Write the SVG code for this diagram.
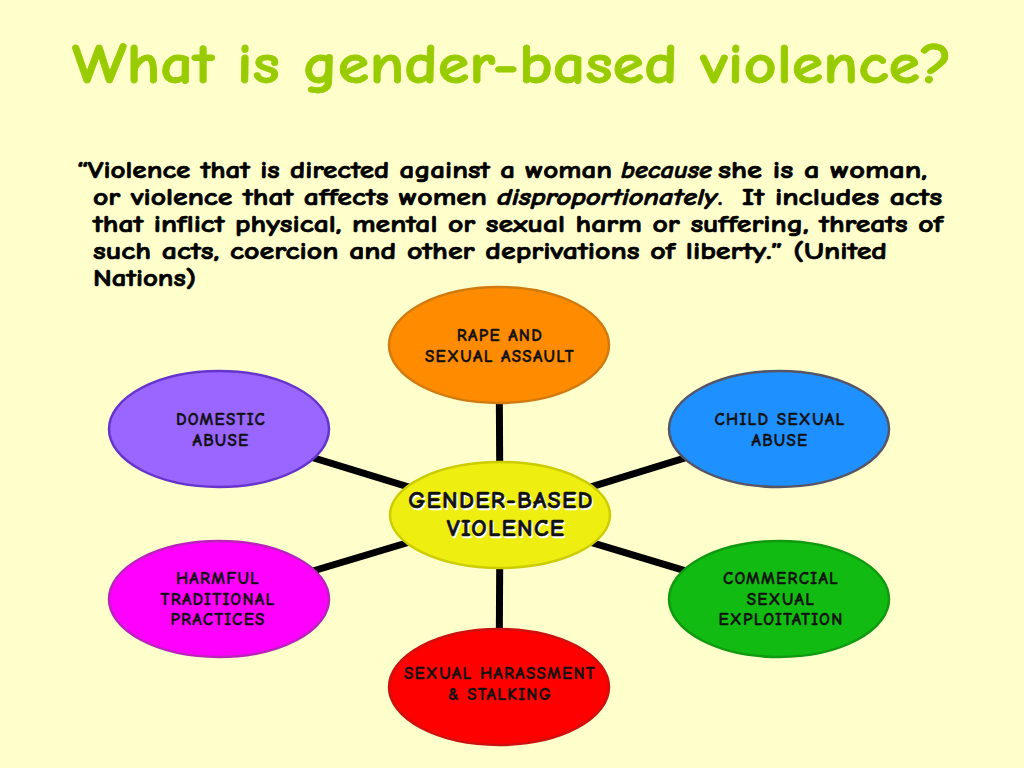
<svg xmlns="http://www.w3.org/2000/svg" width="1024" height="768" viewBox="0 0 1024 768">
<style>
.title{font-family:"Comic Neue","DejaVu Sans","Liberation Sans",sans-serif;font-weight:bold;font-size:56px;fill:#99CC00;stroke:#99CC00;stroke-width:0.8}
.body{font-family:"Comic Neue","DejaVu Sans","Liberation Sans",sans-serif;font-weight:bold;font-size:24px;fill:#000;stroke:#000;stroke-width:0.7}
.it{font-style:italic}
.lbl{font-family:"Comic Neue","DejaVu Sans","Liberation Sans",sans-serif;font-weight:bold;font-size:17px;letter-spacing:1.3px;fill:#111;stroke:#111;stroke-width:0.4;text-anchor:middle}
.ctr{font-family:"Comic Neue","DejaVu Sans","Liberation Sans",sans-serif;font-weight:bold;font-size:24px;letter-spacing:1.3px;text-anchor:middle;stroke-width:0.6}
.node{stroke-width:2.5}
.conn{stroke:#000;stroke-width:7;fill:none}
</style>
<rect width="1024" height="768" fill="#FFFFCC"/>
<text class="title" x="512" y="83" text-anchor="middle" textLength="880" lengthAdjust="spacingAndGlyphs">What is gender-based violence?</text>
<g id="quote">
<text class="body" x="77" y="178" textLength="535" lengthAdjust="spacingAndGlyphs">“Violence that is directed against a woman</text>
<text class="body it" x="621" y="178" textLength="91" lengthAdjust="spacingAndGlyphs">because</text>
<text class="body" x="718" y="178" textLength="209" lengthAdjust="spacingAndGlyphs">she is a woman,</text>
<text class="body" x="93" y="205" textLength="394" lengthAdjust="spacingAndGlyphs">or violence that affects women</text>
<text class="body it" x="497" y="205" textLength="220" lengthAdjust="spacingAndGlyphs">disproportionately</text>
<text class="body" x="718" y="205">.</text>
<text class="body" x="742" y="205" textLength="200" lengthAdjust="spacingAndGlyphs">It includes acts</text>
<text class="body" x="93" y="232" textLength="850" lengthAdjust="spacingAndGlyphs">that inflict physical, mental or sexual harm or suffering, threats of</text>
<text class="body" x="93" y="259" textLength="794" lengthAdjust="spacingAndGlyphs">such acts, coercion and other deprivations of liberty.”  (United</text>
<text class="body" x="93" y="286" textLength="103" lengthAdjust="spacingAndGlyphs">Nations)</text>
</g>
<g id="connectors">
<line class="conn" x1="500" y1="515" x2="499" y2="345"/>
<line class="conn" x1="500" y1="515" x2="499" y2="687"/>
<line class="conn" x1="500" y1="515" x2="219" y2="429"/>
<line class="conn" x1="500" y1="515" x2="779" y2="429"/>
<line class="conn" x1="500" y1="515" x2="219" y2="599"/>
<line class="conn" x1="500" y1="515" x2="779" y2="599"/>
</g>
<g id="rape">
<ellipse class="node" cx="499" cy="345" rx="110" ry="58" fill="#FF8C00" stroke="#D07A10"/>
<text class="lbl" x="500" y="341">RAPE AND</text>
<text class="lbl" x="500" y="362">SEXUAL ASSAULT</text>
</g>
<g id="domestic">
<ellipse class="node" cx="219" cy="429" rx="110" ry="58" fill="#9966FF" stroke="#6633CC"/>
<text class="lbl" x="221" y="425">DOMESTIC</text>
<text class="lbl" x="221" y="446">ABUSE</text>
</g>
<g id="child">
<ellipse class="node" cx="779" cy="429" rx="110" ry="58" fill="#1E90FF" stroke="#555566"/>
<text class="lbl" x="780" y="425">CHILD SEXUAL</text>
<text class="lbl" x="780" y="446">ABUSE</text>
</g>
<g id="harmful">
<ellipse class="node" cx="219" cy="599" rx="110" ry="58" fill="#FF00FF" stroke="#BB22BB"/>
<text class="lbl" x="218" y="584">HARMFUL</text>
<text class="lbl" x="218" y="605">TRADITIONAL</text>
<text class="lbl" x="218" y="625">PRACTICES</text>
</g>
<g id="commercial">
<ellipse class="node" cx="779" cy="599" rx="110" ry="58" fill="#11BB11" stroke="#119911"/>
<text class="lbl" x="781" y="584">COMMERCIAL</text>
<text class="lbl" x="781" y="605">SEXUAL</text>
<text class="lbl" x="781" y="625">EXPLOITATION</text>
</g>
<g id="harassment">
<ellipse class="node" cx="499" cy="687" rx="110" ry="58" fill="#FF0000" stroke="#CC1111"/>
<text class="lbl" x="500" y="679">SEXUAL HARASSMENT</text>
<text class="lbl" x="500" y="700">&amp; STALKING</text>
</g>
<g id="center">
<ellipse class="node" cx="500" cy="515" rx="110" ry="53" fill="#EEEE11" stroke="#CCCC00"/>
<text class="ctr" x="502.5" y="509.5" fill="#FFFFFF" stroke="#FFFFFF">GENDER-BASED</text>
<text class="ctr" x="501" y="508" fill="#111" stroke="#111">GENDER-BASED</text>
<text class="ctr" x="507.5" y="537.5" fill="#FFFFFF" stroke="#FFFFFF">VIOLENCE</text>
<text class="ctr" x="506" y="536" fill="#111" stroke="#111">VIOLENCE</text>
</g>
</svg>
